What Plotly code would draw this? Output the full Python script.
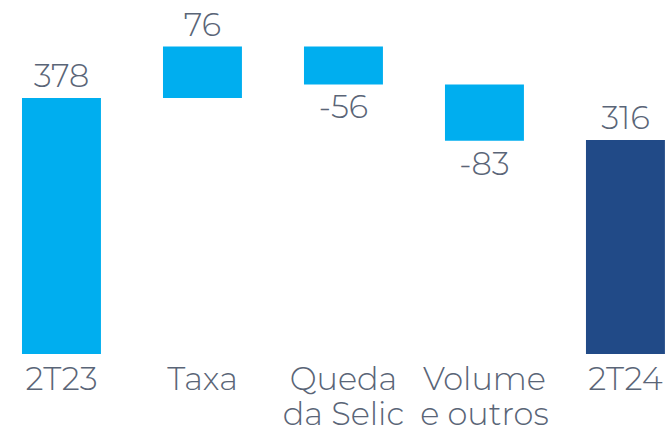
import plotly.graph_objects as go

categories = ["2T23", "Taxa", "Queda\nda Selic", "Volume\ne outros", "2T24"]
values = [378, 76, -56, -83, 316]
kinds = ["absolute", "relative", "relative", "relative", "absolute"]
colors = ["#00AEEF", "#00AEEF", "#00AEEF", "#00AEEF", "#214A87"]

# compute bases from the running total
bases = []
running = 0
for v, k in zip(values, kinds):
    if k == "absolute":
        bases.append(0)
        running = v
    else:
        bases.append(running)
        running += v

text_color = "#5A6577"
font_family = "Montserrat, 'Open Sans', Lato, sans-serif"

# tick labels: shown at 32px, with a tighter line spacing
ticktext = [
    "<br>".join(f"<span style='font-size:32px'>{line}</span>" for line in c.split("\n"))
    for c in categories
]

fig = go.Figure(
    go.Bar(
        x=list(range(len(categories))),
        y=values,
        base=bases,
        marker=dict(color=colors, line=dict(width=0)),
        text=[str(v) for v in values],
        textposition="outside",
        textfont=dict(size=32, color=text_color, family=font_family, weight=300),
        cliponaxis=False,
        hoverinfo="skip",
    )
)

fig.update_layout(
    width=670,
    height=431,
    margin=dict(l=0, r=0, t=0, b=77, autoexpand=False),
    paper_bgcolor="white",
    plot_bgcolor="white",
    bargap=0.44,
    showlegend=False,
    font=dict(family=font_family, color=text_color, size=32, weight=300),
)
fig.update_xaxes(
    tickmode="array",
    tickvals=list(range(len(categories))),
    ticktext=ticktext,
    range=[-0.436, 4.316],
    showgrid=False,
    zeroline=False,
    showline=False,
    ticks="",
    automargin=False,
    ticklabelstandoff=8,
    tickfont=dict(size=27, color=text_color, family=font_family, weight=300),
)
fig.update_yaxes(
    range=[0, 522.7],
    visible=False,
    showgrid=False,
    zeroline=False,
    automargin=False,
)

fig.write_html(
    "out.html",
    config={"displayModeBar": False, "staticPlot": True},
    post_script="document.body.style.margin='0';document.body.style.overflow='hidden';",
)
